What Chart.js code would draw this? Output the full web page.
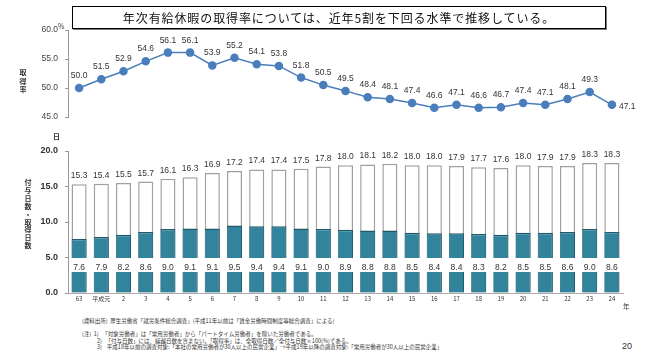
<!DOCTYPE html>
<html><head><meta charset="utf-8">
<script src="https://cdn.jsdelivr.net/npm/chart.js@4/dist/chart.umd.min.js"></script>
<style>
body{margin:0;width:670px;height:357px;background:#fff;position:relative;overflow:hidden;font-family:"Noto Sans CJK JP",sans-serif;color:#222;}
.abs{position:absolute;white-space:nowrap;z-index:2;}
canvas{position:absolute;left:0;z-index:1;}
.vt{font-weight:bold;font-size:7px;color:#333;text-align:center;width:10px;}
.note{font-size:5.5px;color:#333;}
</style></head><body>
<canvas id="c1" width="670" height="130" style="top:0"></canvas>
<canvas id="c2" width="670" height="180" style="top:130px"></canvas>
<div class="abs" style="left:72px;top:6px;width:532px;height:21px;border:1.5px solid #000;box-shadow:1px 1px 0 #777;font-size:12px;letter-spacing:0.9px;line-height:21px;text-align:center;color:#111;">年次有給休暇の取得率については、近年5割を下回る水準で推移している。</div>
<div class="abs" style="left:58px;top:21px;font-size:7px;color:#444;">%</div>
<div class="abs vt" style="left:18px;top:68px;line-height:8.7px;">取<br>得<br>率</div>
<div class="abs" style="left:53px;top:131px;font-size:7px;font-weight:bold;color:#333;">日</div>
<div class="abs vt" style="left:23px;top:179px;line-height:7.9px;">付<br>与<br>日<br>数<br>・<br>取<br>得<br>日<br>数</div>
<div class="abs" style="left:623px;top:301px;font-size:6.5px;color:#333;">年</div>
<div class="abs note" style="left:82px;top:317px;">(資料出所)&nbsp;&nbsp;厚生労働省「就労条件総合調査」(平成11年以前は「賃金労働時間制度等総合調査」による)</div>
<div class="abs note" style="left:82px;top:330px;">(注)&nbsp;&nbsp;1)&nbsp;&nbsp;&nbsp;「対象労働者」は「常用労働者」から「パートタイム労働者」を除いた労働者である。</div>
<div class="abs note" style="left:97px;top:337px;">2)&nbsp;&nbsp;&nbsp;「付与日数」には、繰越日数を含まない。「取得率」は、全取得日数／全付与日数×100(%)である。</div>
<div class="abs note" style="left:97px;top:343px;">3)&nbsp;&nbsp;&nbsp;&nbsp;平成18年以前の調査対象:「本社の常用労働者が30人以上の民営企業」→平成19年以降の調査対象:「常用労働者が30人以上の民営企業」</div>
<div class="abs" style="left:622px;top:341px;font-size:9px;font-family:'Liberation Sans',sans-serif;color:#333;">20</div>
<script>
const labels = ['63','平成元','2','3','4','5','6','7','8','9','10','11','12','13','14','15','16','17','18','19','20','21','22','23','24'];
const rate = [50.0,51.5,52.9,54.6,56.1,56.1,53.9,55.2,54.1,53.8,51.8,50.5,49.5,48.4,48.1,47.4,46.6,47.1,46.6,46.7,47.4,47.1,48.1,49.3,47.1];
const given = [15.3,15.4,15.5,15.7,16.1,16.3,16.9,17.2,17.4,17.4,17.5,17.8,18.0,18.1,18.2,18.0,18.0,17.9,17.7,17.6,18.0,17.9,17.9,18.3,18.3];
const taken = [7.6,7.9,8.2,8.6,9.0,9.1,9.1,9.5,9.4,9.4,9.1,9.0,8.9,8.8,8.8,8.5,8.4,8.4,8.3,8.2,8.5,8.5,8.6,9.0,8.6];
const rateTicks = [45,50,55,60];
const dayTicks = [0,5,10,15,20];

const NUMFONT = '"Liberation Sans", Arial, sans-serif';

const lineLabels = {
  id:'lineLabels',
  afterDatasetsDraw(chart){
    const ctx = chart.ctx, meta = chart.getDatasetMeta(0);
    ctx.save();
    ctx.font = '8.5px ' + NUMFONT;
    ctx.fillStyle = '#333';
    meta.data.forEach((p,i)=>{
      const t = rate[i].toFixed(1);
      if (i === rate.length-1){ ctx.textAlign='left'; ctx.fillText(t, p.x+7, p.y+4); }
      else { ctx.textAlign='center'; ctx.fillText(t, p.x, p.y-10); }
    });
    ctx.restore();
  }
};

new Chart(document.getElementById('c1'), {
  type:'line',
  data:{labels, datasets:[{data:rate, borderColor:'#4a7ebb', backgroundColor:'#4a7ebb', borderWidth:1.5, pointRadius:3.5, pointHoverRadius:3.5, tension:0}]},
  options:{
    responsive:false, animation:false, events:[],
    layout:{padding:{left:0,right:47,top:30,bottom:13}},
    plugins:{legend:{display:false}, tooltip:{enabled:false}},
    scales:{
      x:{type:'category', offset:true, display:false},
      y:{min:45, max:60,
         afterBuildTicks:s=>{ s.ticks = rateTicks.map(v=>({value:v})); },
         afterFit:s=>{ s.width = 68; },
         border:{display:true,color:'#999',width:1},
         grid:{drawOnChartArea:false, drawTicks:true, tickLength:3, color:'#999'},
         ticks:{padding:7, color:'#444', font:{family:NUMFONT,size:8.5}, callback:v=>Number(v).toFixed(1)}
      }
    }
  },
  plugins:[lineLabels]
});

const barLabels = {
  id:'barLabels',
  afterDatasetsDraw(chart){
    const ctx = chart.ctx, y = chart.scales.y;
    const metaT = chart.getDatasetMeta(0), metaG = chart.getDatasetMeta(1);
    ctx.save();
    ctx.font = '8.5px ' + NUMFONT;
    ctx.textAlign = 'center';
    metaG.data.forEach((b,i)=>{
      ctx.fillStyle = '#333';
      ctx.fillText(given[i].toFixed(1), b.x, b.y-6);
    });
    const yTop = y.getPixelForValue(4.93), yBot = y.getPixelForValue(2.96);
    metaT.data.forEach((b,i)=>{
      ctx.fillStyle = '#fff';
      ctx.fillRect(b.x - b.width/2 - 2, yTop, b.width + 4, yBot - yTop);
      ctx.fillStyle = '#333';
      ctx.fillText(taken[i].toFixed(1), b.x, y.getPixelForValue(3.7)+3);
    });
    ctx.restore();
  }
};

new Chart(document.getElementById('c2'), {
  type:'bar',
  data:{labels, datasets:[
    {data:taken, backgroundColor:'#31849b', borderColor:'#1f5a6a', borderWidth:{top:1.5,right:1,left:0.5,bottom:0}, borderSkipped:false, barPercentage:0.68, categoryPercentage:1},
    {data:given, backgroundColor:'#ffffff', borderColor:'#a0a0a0', borderWidth:1.5, borderSkipped:false, barPercentage:0.68, categoryPercentage:1}
  ]},
  options:{
    responsive:false, animation:false, events:[],
    layout:{padding:{left:0,right:47,top:21,bottom:1}},
    plugins:{legend:{display:false}, tooltip:{enabled:false}},
    scales:{
      x:{type:'category', stacked:true, offset:true,
         afterFit:s=>{ s.height = 16; },
         border:{display:true,color:'#aaa',width:1},
         grid:{display:false, drawTicks:false},
         ticks:{padding:2, color:'#333', maxRotation:0, autoSkip:false, font:{family:'"Noto Sans CJK JP", sans-serif',size:6}}
      },
      y:{stacked:false, min:0, max:20,
         afterBuildTicks:s=>{ s.ticks = dayTicks.map(v=>({value:v})); },
         afterFit:s=>{ s.width = 68; },
         border:{display:true,color:'#999',width:1},
         grid:{drawOnChartArea:false, drawTicks:true, tickLength:3, color:'#999'},
         ticks:{padding:7, color:'#333', font:{family:NUMFONT,size:9,weight:'bold'}, callback:v=>Number(v).toFixed(1)}
      }
    }
  },
  plugins:[barLabels]
});
</script>
</body></html>
